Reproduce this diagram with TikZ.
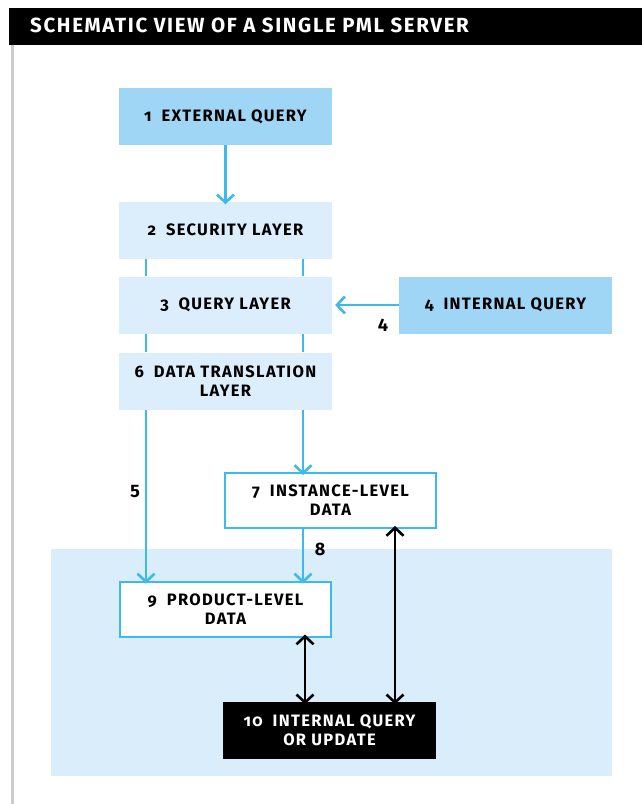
\documentclass[tikz,border=0pt]{standalone}
\usepackage{fontspec}
\setmainfont{Fira Sans}[Numbers=OldStyle, LetterSpace=8]
\usetikzlibrary{arrows.meta}
\definecolor{deepsky}{HTML}{A0D6F5}
\definecolor{palesky}{HTML}{DCEEFB}
\definecolor{zone}{HTML}{DAEDFB}
\definecolor{wire}{HTML}{3DB9EC}
\definecolor{rule}{HTML}{CCCCCC}
\tikzset{
  box/.style={minimum width=213pt, minimum height=57pt, inner sep=0pt,
    align=center, font=\fontsize{16.5}{19}\selectfont\bfseries},
  darkbox/.style={box, fill=deepsky},
  layerbox/.style={box, fill=palesky},
  databox/.style={box, fill=white, draw=wire, line width=2pt,
    minimum width=211pt, minimum height=55pt},
  blackbox/.style={box, fill=black, text=white},
  flow/.style={draw=wire, line width=2.6pt},
  flowarrow/.style={flow, -{Straight Barb[length=8pt, width=17pt, line width=2.6pt]}},
  link/.style={draw=black, line width=2.6pt,
    {Straight Barb[length=8pt, width=17pt, line width=2.6pt]}-{Straight Barb[length=8pt, width=17pt, line width=2.6pt]}},
  tag/.style={font=\fontsize{18}{20}\selectfont\bfseries, inner sep=0pt}
}
\begin{document}
\begin{tikzpicture}[x=1pt, y=-1pt]
  \useasboundingbox (0,0) rectangle (642,804);
  % page furniture: title bar, side rule, shaded storage zone
  \fill[black] (9,8) rectangle (642,45);
  \node[anchor=base west, text=white, inner sep=0pt,
        font=\fontsize{20.5}{22}\selectfont\bfseries] (title) at (30,32)
        {SCHEMATIC VIEW OF A SINGLE PML SERVER};
  \fill[rule] (11,45) rectangle (13.5,804);
  \fill[zone] (51,549) rectangle (612,776);

  % boxes
  \node[darkbox]  (n1) at (225.5,116.5) {1\hspace{0.6em}EXTERNAL QUERY};
  \node[layerbox] (n2) at (225.5,230)   {2\hspace{0.6em}SECURITY LAYER};
  \node[layerbox] (n3) at (225.5,305)   {3\hspace{0.6em}QUERY LAYER};
  \node[layerbox] (n6) at (225.5,381)   {6\hspace{0.6em}DATA TRANSLATION\\LAYER};
  \node[darkbox]  (n4) at (505.5,305)   {4\hspace{0.6em}INTERNAL QUERY};
  \node[databox]  (n7) at (330.5,500.5) {7\hspace{0.6em}INSTANCE-LEVEL\\DATA};
  \node[databox]  (n9) at (225.5,609)   {9\hspace{0.6em}PRODUCT-LEVEL\\DATA};
  \node[blackbox] (n10) at (329.5,730)  {10\hspace{0.6em}INTERNAL QUERY\\OR UPDATE};

  % blue query flow
  \draw[flowarrow] (n1.south) -- ([yshift=-3pt]n2.north);
  \draw[flowarrow] (n4.west) -- ([xshift=3pt]n3.east);
  \draw[flow] ([xshift=-79.5pt]n2.south) -- ([xshift=-79.5pt]n3.north);
  \draw[flow] ([xshift=77.5pt]n2.south)  -- ([xshift=77.5pt]n3.north);
  \draw[flow] ([xshift=-79.5pt]n3.south) -- ([xshift=-79.5pt]n6.north);
  \draw[flow] ([xshift=77.5pt]n3.south)  -- ([xshift=77.5pt]n6.north);
  \draw[flowarrow] ([xshift=-79.5pt]n6.south) -- ([xshift=-79.5pt,yshift=-3pt]n9.north);
  \draw[flowarrow] ([xshift=77.5pt]n6.south)  -- ([xshift=-27.5pt,yshift=-3pt]n7.north);
  \draw[flowarrow] ([xshift=-27.5pt]n7.south) -- ([xshift=77.5pt,yshift=-3pt]n9.north);

  % black two-way links to the internal query
  \draw[link] ([xshift=79.5pt,yshift=3pt]n9.south) -- ([xshift=-24.5pt,yshift=-3pt]n10.north);
  \draw[link] ([xshift=64.5pt,yshift=3pt]n7.south) -- ([xshift=65.5pt,yshift=-3pt]n10.north);

  % step labels on the flows
  \node[tag] (l4) at (383,325) {4};
  \node[tag] (l5) at (135,491) {5};
  \node[tag] (l8) at (320,549) {8};
\end{tikzpicture}
\end{document}
